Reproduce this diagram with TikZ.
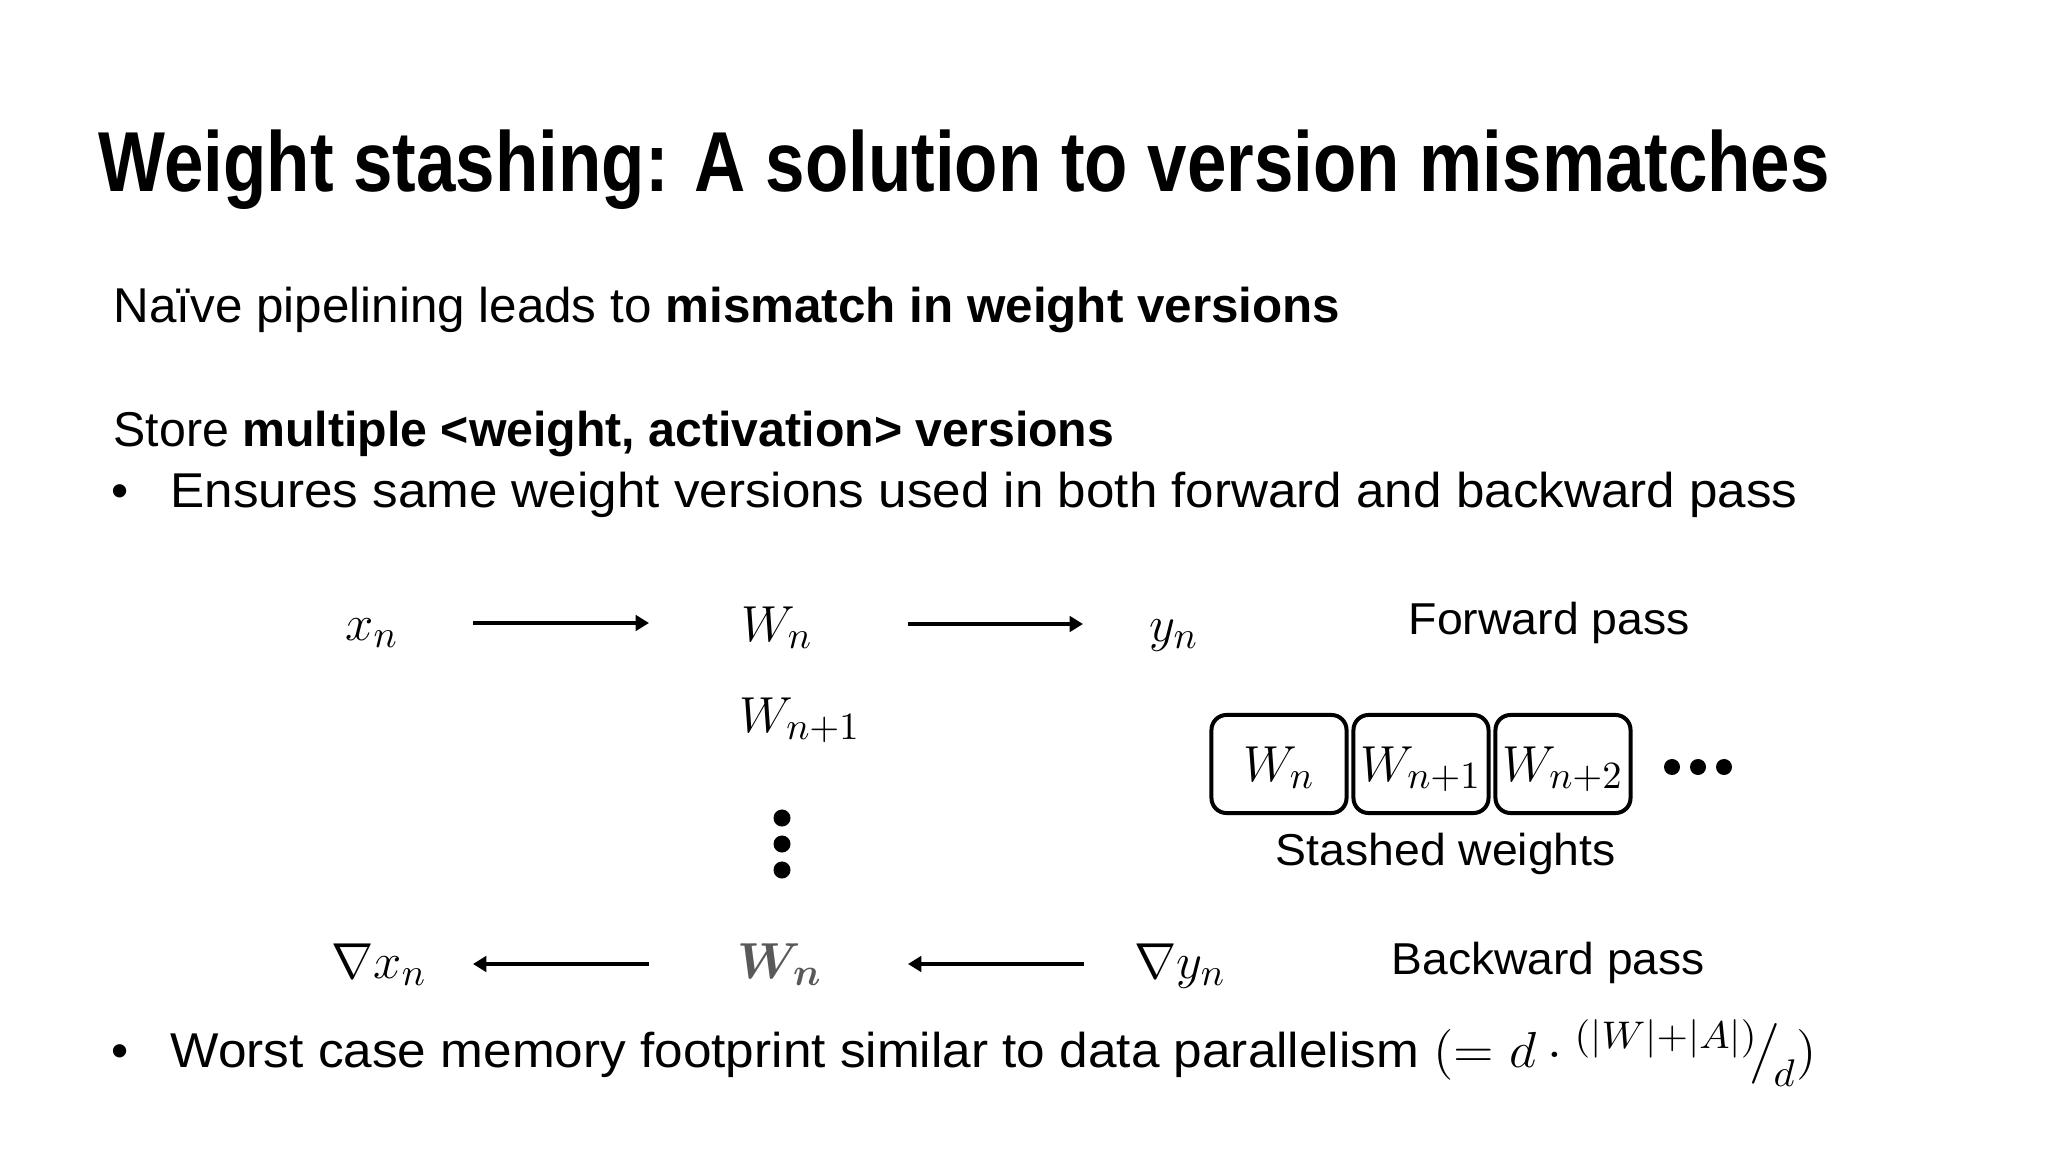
\documentclass[tikz,border=0pt]{standalone}
\usepackage[no-math]{fontspec}
\setmainfont{Liberation Sans}
\usepackage{amsmath}
\usetikzlibrary{arrows.meta}
\definecolor{wgray}{HTML}{595959}
\DeclareMathSizes{14.2}{14.2}{11.2}{8.5}
\DeclareMathSizes{13.9}{13.9}{10.8}{8.3}
\newsavebox\fitbox
\newcommand\fitw[2]{\sbox\fitbox{#2}\pgfmathsetmacro\fitratio{#1/\the\wd\fitbox}\scalebox{\fitratio}[1]{\usebox\fitbox}}
\newcommand\titlefont{\fontsize{24.2}{29}\selectfont\bfseries}
\newcommand\bodyfont{\fontsize{13.9}{17}\selectfont}
\newcommand\labfont{\fontsize{12.7}{15}\selectfont}
\newcommand\mathsize{\fontsize{14.2}{17}\selectfont}
\begin{document}
\begin{tikzpicture}[x=0.01cm,y=-0.01cm,
  txt/.style={inner sep=0pt,anchor=base west},
  mth/.style={inner sep=0pt,anchor=base,font=\mathsize},
  arr/.style={line width=1.14pt,-{Triangle[length=3.8pt,width=4.4pt]}},
  wbox/.style={draw,line width=1.14pt,rounded corners=0.15cm,minimum width=1.35cm,minimum height=0.98cm,inner sep=0pt,text height=0.34cm,text depth=0pt,font=\mathsize},
  dot/.style={circle,fill,inner sep=0pt,minimum size=0.17cm}]
\useasboundingbox (0,0) rectangle (2048,1152);
% title and text
\node[txt] (title) at (98,192) {\fitw{17.30cm}{\titlefont Weight stashing: A solution to version mismatches}};
\node[txt] (l1) at (113,323) {\fitw{12.26cm}{\bodyfont Naïve pipelining leads to \textbf{mismatch in weight versions}}};
\node[txt] (l2) at (113,447) {\fitw{10.00cm}{\bodyfont Store \textbf{multiple <weight, activation> versions}}};
\node[txt] (b1) at (111,508) {\bodyfont •};
\node[txt] (l3) at (170,508) {\fitw{16.26cm}{\bodyfont Ensures same weight versions used in both forward and backward pass}};
\node[txt] (b2) at (111,1067) {\bodyfont •};
\node[txt] (l4) at (170,1067) {\fitw{16.45cm}{\bodyfont Worst case memory footprint similar to data parallelism $(= d \cdot {}^{(|W|+|A|)}\!\big/_{\!d})$}};
% forward row
\node[mth] (xn) at (372,640) {$x_n$};
\node[mth] (Wn) at (777,641) {$W_n$};
\node[mth] (yn) at (1174,641) {$y_n$};
\node[txt] (fp) at (1408,634) {\fitw{2.81cm}{\labfont Forward pass}};
\draw[arr] ([shift={(101,-17)}]xn.base) -- ([shift={(-128,-18)}]Wn.base);
\draw[arr] ([shift={(131,-17)}]Wn.base) -- ([shift={(-91,-17)}]yn.base);
% middle
\node[mth] (Wn1) at (800,732) {$W_{n+1}$};
\node[dot] (v1) at (782,818) {};
\node[dot] (v2) at (782,844) {};
\node[dot] (v3) at (782,870) {};
% stashed weights
\node[wbox] (s1) at (1279,764) {$W_n$};
\node[wbox] (s2) at (1421,764) {$W_{n+1}$};
\node[wbox] (s3) at (1563,764) {$W_{n+2}$};
\node[dot,minimum size=0.16cm] (h1) at (1672,767) {};
\node[dot,minimum size=0.16cm] (h2) at (1698,767) {};
\node[dot,minimum size=0.16cm] (h3) at (1724,767) {};
\node[txt] (sw) at (1275,865) {\fitw{3.40cm}{\labfont Stashed weights}};
% backward row
\node[mth] (gxn) at (379,978) {$\nabla x_n$};
\node[mth,text=wgray] (Wb) at (780,978) {$\boldsymbol{W_n}$};
\node[mth] (gyn) at (1180,978) {$\nabla y_n$};
\node[txt] (bp) at (1391,974) {\fitw{3.13cm}{\labfont Backward pass}};
\draw[arr] ([shift={(-131,-14)}]Wb.base) -- ([shift={(94,-14)}]gxn.base);
\draw[arr] ([shift={(-96,-14)}]gyn.base) -- ([shift={(128,-14)}]Wb.base);
\end{tikzpicture}
\end{document}
